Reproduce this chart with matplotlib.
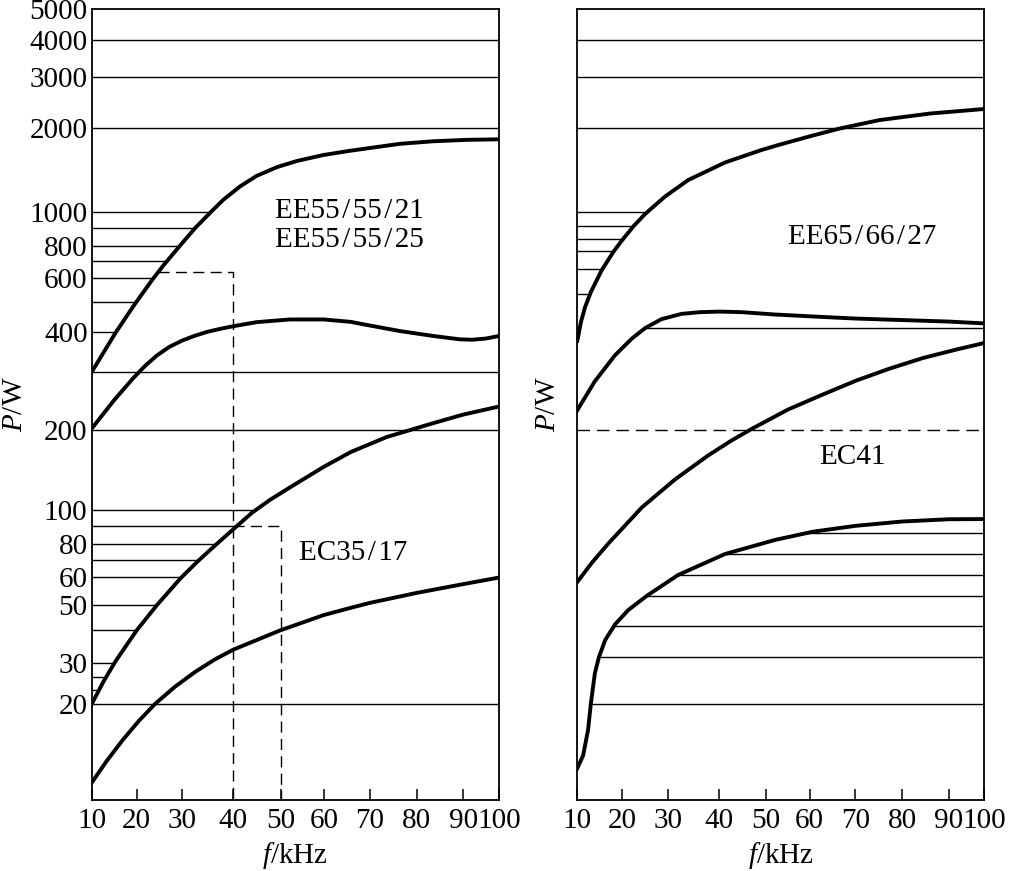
import numpy as np
import matplotlib
matplotlib.use("Agg")
from matplotlib import pyplot as plt

plt.rcParams['font.family'] = ['Liberation Serif', 'DejaVu Serif']
plt.rcParams['mathtext.fontset'] = 'custom'
plt.rcParams['mathtext.rm'] = 'Liberation Serif'
plt.rcParams['mathtext.it'] = 'Liberation Serif:italic'

# ---- values (f in kHz, P in W) ----
freq_ticks = [10, 20, 30, 40, 50, 60, 70, 80, 90, 100]
p_ticks = [20, 30, 50, 60, 80, 100, 200, 400, 600, 800, 1000, 2000, 3000, 4000, 5000]

# left panel: EE55/55/21, EE55/55/25
ee55a_f = [10, 15.3, 19.4, 23.4, 26.0, 29.7, 32.6, 35.9, 38.0, 41.4, 44.9, 49.2, 53.7, 59.8,
           65.6, 76.4, 83.6, 91.0, 100]
ee55a_p = [301, 397, 489, 593, 677, 806, 901, 1010, 1102, 1233, 1346, 1448, 1524, 1602,
           1659, 1758, 1796, 1817, 1825]
ee55b_f = [10, 15, 19.2, 21.8, 24.4, 27.1, 30, 32.5, 35, 37.5, 40, 44.9, 52.1, 59.8, 65.8,
           69.3, 76.4, 83.6, 89.3, 92.5, 96.2, 100]
ee55b_p = [202, 247, 288, 314, 338, 359, 376, 389, 400, 409, 417, 430, 439, 439, 431,
           421, 402, 388, 379, 378, 381, 388]
# left panel: EC35/17
ec35a_f = [10, 11.2, 12.6, 15.4, 20, 24.4, 29.6, 33.0, 36.3, 40, 43.9, 47.7, 52.1, 59.8,
           65.8, 73.6, 83.6, 90, 100]
ec35a_p = [20, 22.1, 24.9, 30.6, 40, 50, 59.6, 68.9, 78.8, 88.3, 98.3, 109.3, 121.8, 145.3,
           165.4, 188.3, 210, 223, 236]
ec35b_f = [10, 13.3, 17.0, 20.5, 24.0, 28.4, 32.5, 36.4, 40, 49.9, 59.8, 65.8, 70, 80, 90, 100]
ec35b_p = [10.7, 12.7, 15.1, 17.5, 20.0, 23.7, 27.4, 30.9, 33.7, 40.0, 45.8, 48.9, 50.8,
           54.2, 57.4, 59.9]

# right panel: EE65/66/27
ee65a_f = [10, 10.8, 11.7, 13.0, 15.4, 18.0, 19.9, 22.4, 25.0, 29.4, 34.0, 41.3, 49.0, 53.2,
           60.7, 66.6, 75.2, 86.1, 100]
ee65a_p = [375, 430, 481, 540, 643, 757, 827, 907, 985, 1135, 1301, 1505, 1670, 1748,
           1884, 1997, 2134, 2247, 2328]
ee65b_f = [10, 13.9, 18.4, 22.1, 25.0, 28.6, 32.7, 36.3, 40.2, 44.8, 51.8, 60.7, 70, 80, 90, 100]
ee65b_p = [230, 282, 339, 381, 411, 440, 458, 464, 466, 464, 456, 449, 442, 437, 432, 426]
# right panel: EC41
ec41a_f = [10, 13.2, 16.9, 24.3, 31.4, 37.9, 42.7, 46.9, 55.0, 62.9, 70.2, 77.4, 84.5, 92.2, 100]
ec41a_p = [58.2, 68.0, 80.4, 102.5, 130.5, 160.5, 182.7, 201.4, 231, 257, 283.5, 308.6, 332.3,
           352.8, 369.4]
ec41b_f = [10, 11.3, 12.4, 13.0, 13.9, 14.8, 16.2, 18.4, 21.3, 25.4, 32.0, 41.3, 52.0, 60.7,
           70, 80, 90, 100]
ec41b_p = [12.0, 13.3, 16.3, 20, 27, 31.5, 36.7, 42.2, 47.9, 53.2, 61.2, 73.5, 82.3, 86.9,
           90.3, 92.9, 94.3, 94.4]

# grid / hatch levels
left_full = [20, 200, 300, 2000, 3000, 4000]
left_hatch_a = [400, 500, 600, 700, 800, 900, 1000]
left_hatch_c = [23, 26, 30, 40, 50, 60, 70, 80, 90, 100]
right_full = [2000, 3000, 4000]
right_hatch_e = [534, 653, 765, 838, 912, 1000]
right_hatch_f = [410]
right_hatch_h = [20, 31.5, 41.6, 53.2, 61.2, 73.5, 86]
right_dashed = 200
# design points (dashed guides)
guide_f = [40, 50]
guide_p = [635, 90]

# ---- axis calibration of the printed (hand drawn) scales ----
f_cal = [0, 10, 20, 30, 40, 50, 60, 70, 80, 90, 100, 110]
x_cal = [-45, 0, 45, 90.6, 141.6, 189, 232.6, 278.3, 325, 371.6, 407.3, 452]
p_cal = [1, 9.33, 20, 30, 50, 60, 80, 100, 200, 400, 600, 800, 1000, 2000, 3000, 4000, 5000, 1e5]
y_cal = [-281, 0, 96, 137.3, 194.7, 222.7, 255.7, 289.7, 370, 468.3, 521.7, 554.3, 588.3,
         671.7, 723.3, 760, 791, 1181]
logp_cal = np.log10(p_cal)


def fx(v):
    return np.interp(v, f_cal, x_cal)


def fx_inv(v):
    return np.interp(v, x_cal, f_cal)


def fy(v):
    return np.interp(np.log10(np.clip(v, 1e-6, None)), logp_cal, y_cal)


def fy_inv(v):
    return 10 ** np.interp(v, y_cal, logp_cal)


def cross(level, f, p):
    return np.interp(np.log10(level), np.log10(p), f)


fig = plt.figure(figsize=(10.1, 8.71), dpi=100)
ax1 = fig.add_axes([91.7 / 1010, 71 / 871, 407.3 / 1010, 791 / 871])
ax2 = fig.add_axes([577.3 / 1010, 71 / 871, 407 / 1010, 791 / 871])

fs = 21
thin = 1.0
thick = 2.8
hs = '\u200a'  # hair space, the printed slashes are loosely set

for ax in (ax1, ax2):
    ax.set_xscale('function', functions=(fx, fx_inv))
    ax.set_yscale('function', functions=(fy, fy_inv))
    ax.set_xlim(10, 100)
    ax.set_ylim(9.33, 5000)
    ax.set_xticks(freq_ticks)
    ax.set_xticklabels([str(v) for v in freq_ticks])
    ax.minorticks_off()
    ax.tick_params(axis='x', direction='in', length=8, width=1.1, labelsize=fs, pad=6)
    ax.tick_params(axis='y', length=0, labelsize=fs, pad=3)
    for s in ax.spines.values():
        s.set_linewidth(1.3)
    ax.set_xlabel(r'$f$/kHz', fontsize=fs)
    ax.set_ylabel(r'$P$/W', fontsize=fs)
    ax.xaxis.set_label_coords(0.5, -0.05)

ax1.set_yticks(p_ticks)
ax1.set_yticklabels([str(v) for v in p_ticks])
ax1.yaxis.set_label_coords(-0.157, 0.5)
ax2.set_yticks([])
ax2.yaxis.set_label_coords(-0.04, 0.5)


def label(ax, x, y, s):
    ax.text(x, y, s.replace('/', hs + '/' + hs), transform=ax.transAxes,
            ha='center', va='center', fontsize=fs)


# ---- left panel ----
ax1.hlines(left_full, 10, 100, color='black', lw=thin)
ax1.hlines(left_hatch_a, 10, [cross(v, ee55a_f, ee55a_p) for v in left_hatch_a], color='black', lw=thin)
ax1.hlines(left_hatch_c, 10, [cross(v, ec35a_f, ec35a_p) for v in left_hatch_c], color='black', lw=thin)
for f, p in ((ee55a_f, ee55a_p), (ee55b_f, ee55b_p), (ec35a_f, ec35a_p), (ec35b_f, ec35b_p)):
    ax1.plot(f, p, color='black', lw=thick, solid_joinstyle='round')

dash = dict(color='black', lw=thin, dashes=(8, 4.5))
x0 = cross(guide_p[0], ee55a_f, ee55a_p)
ax1.plot([x0, guide_f[0], guide_f[0]], [guide_p[0], guide_p[0], 9.33], **dash)
ax1.plot([guide_f[0], guide_f[1], guide_f[1]], [guide_p[1], guide_p[1], 9.33], **dash)

label(ax1, 0.632, 0.744, 'EE55/55/21')
label(ax1, 0.632, 0.708, 'EE55/55/25')
label(ax1, 0.641, 0.312, 'EC35/17')

# ---- right panel ----
ax2.hlines(right_full, 10, 100, color='black', lw=thin)
ax2.hlines(right_hatch_e, 10, [cross(v, ee65a_f, ee65a_p) for v in right_hatch_e], color='black', lw=thin)
rise = [i for i, f in enumerate(ee65b_f) if f <= 36.3]
ax2.hlines(right_hatch_f, [cross(v, [ee65b_f[i] for i in rise], [ee65b_p[i] for i in rise])
                           for v in right_hatch_f], 100, color='black', lw=thin)
ax2.hlines(right_hatch_h, [cross(v, ec41b_f, ec41b_p) for v in right_hatch_h], 100, color='black', lw=thin)
ax2.plot([10, 100], [right_dashed, right_dashed], color='black', lw=thin, dashes=(9, 5))
for f, p in ((ee65a_f, ee65a_p), (ee65b_f, ee65b_p), (ec41a_f, ec41a_p), (ec41b_f, ec41b_p)):
    ax2.plot(f, p, color='black', lw=thick, solid_joinstyle='round')

label(ax2, 0.699, 0.712, 'EE65/66/27')
label(ax2, 0.677, 0.434, 'EC41')

fig.savefig('out.png', dpi=100)
